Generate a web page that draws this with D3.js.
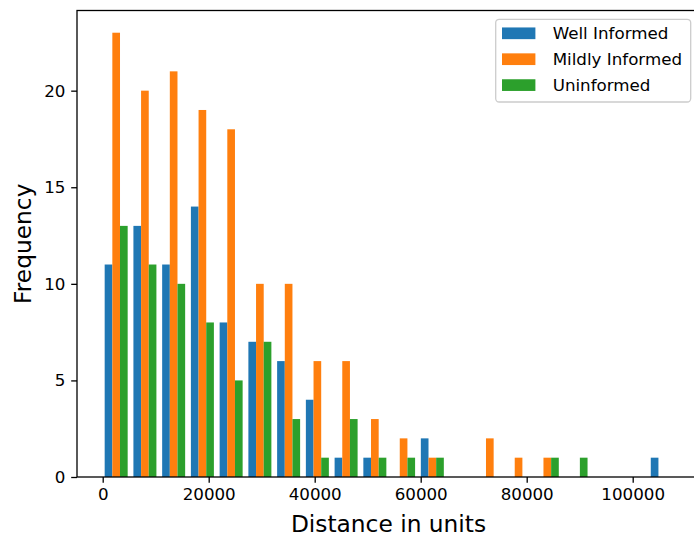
<!DOCTYPE html>
<html>
<head>
<meta charset="utf-8">
<script src="https://cdn.jsdelivr.net/npm/d3@7"></script>
<style>
  body { margin: 0; background: #fff; }
  svg { display: block; font-family: "DejaVu Sans", sans-serif; }
</style>
</head>
<body>
<div id="chart"></div>
<script>
// histogram bin edges (distance in units), 20 bins
const binEdges = [-170, 5253, 10676, 16099, 21522, 26945, 32368, 37791, 43214, 48637,
    54060, 59483, 64906, 70329, 75752, 81175, 86598, 92021, 97444, 102867, 108290]

const seriesNames = ['Well Informed', 'Mildly Informed', 'Uninformed']

// counts per bin
const wellInformed   = [11, 13, 11, 14, 8, 7, 6, 4, 1, 1, 0, 2, 0, 0, 0, 0, 0, 0, 0, 1]
const mildlyInformed = [23, 20, 21, 19, 18, 10, 10, 6, 6, 3, 2, 1, 0, 2, 1, 1, 0, 0, 0, 0]
const uninformed     = [13, 11, 10, 8, 5, 7, 3, 1, 3, 1, 1, 1, 0, 0, 0, 1, 1, 0, 0, 0]

const xTicks = [0, 20000, 40000, 60000, 80000, 100000]
const yTicks = [0, 5, 10, 15, 20]

const colors = ['#1f77b4', '#ff7f0e', '#2ca02c']

const drawHistogram = () => {
    const width = 694
    const height = 537

    // plot area in pixels (right side runs past the crop, like the source)
    const plot = { left: 77, right: 700, top: 10.5, bottom: 477 }

    const svg = d3.select('#chart')
        .append('svg')
        .attr('width', width)
        .attr('height', height)

    const xScale = d3.scaleLinear()
        .domain([-4849, 112698])
        .range([plot.left, plot.right])

    const yScale = d3.scaleLinear()
        .domain([0, 24.15])
        .range([plot.bottom, plot.top])

    const series = [wellInformed, mildlyInformed, uninformed]

    // matplotlib style side by side bars: group takes 80% of the bin
    series.forEach((counts, s) => {
        svg.append('g')
            .selectAll('rect')
            .data(counts)
            .enter()
            .append('rect')
                .attr('x', (d, i) => {
                    const w = binEdges[i + 1] - binEdges[i]
                    return xScale(binEdges[i] + 0.1 * w + s * 0.8 * w / 3)
                })
                .attr('width', (d, i) => {
                    const w = binEdges[i + 1] - binEdges[i]
                    return xScale(binEdges[i] + 0.8 * w / 3) - xScale(binEdges[i])
                })
                .attr('y', d => yScale(d))
                .attr('height', d => yScale(0) - yScale(d))
                .attr('fill', colors[s])
    })

    // axes
    const xAxis = svg.append('g')
        .attr('transform', `translate(0, ${plot.bottom})`)
        .call(d3.axisBottom(xScale).tickValues(xTicks).tickFormat(d3.format('d'))
            .tickSize(5.8).tickPadding(5.8))

    const yAxis = svg.append('g')
        .attr('transform', `translate(${plot.left}, 0)`)
        .call(d3.axisLeft(yScale).tickValues(yTicks).tickSize(5.8).tickPadding(5.8))

    ;[xAxis, yAxis].forEach(ax => {
        ax.select('.domain').remove()
        ax.selectAll('.tick line').attr('stroke', '#000').attr('stroke-width', 1.3)
        ax.selectAll('.tick text')
            .attr('fill', '#000')
            .style('font-size', '16.7px')
            .style('font-family', '"DejaVu Sans", sans-serif')
    })

    // spines
    svg.append('rect')
        .attr('x', plot.left)
        .attr('y', plot.top)
        .attr('width', plot.right - plot.left)
        .attr('height', plot.bottom - plot.top)
        .attr('fill', 'none')
        .attr('stroke', '#000')
        .attr('stroke-width', 1.3)

    // axis labels
    svg.append('text')
        .attr('x', (plot.left + plot.right) / 2)
        .attr('y', 532)
        .attr('text-anchor', 'middle')
        .style('font-size', '23.3px')
        .text('Distance in units')

    svg.append('text')
        .attr('transform', `translate(31, ${(plot.top + plot.bottom) / 2}) rotate(-90)`)
        .attr('text-anchor', 'middle')
        .style('font-size', '23.3px')
        .text('Frequency')

    // legend
    const legend = svg.append('g')

    legend.append('rect')
        .attr('x', 495.7)
        .attr('y', 19.3)
        .attr('width', 195)
        .attr('height', 82.7)
        .attr('rx', 3.5)
        .attr('fill', '#fff')
        .attr('fill-opacity', 0.8)
        .attr('stroke', '#cccccc')
        .attr('stroke-width', 1.3)

    legend.selectAll('.key')
        .data(seriesNames)
        .enter()
        .append('rect')
            .attr('x', 502)
            .attr('y', (d, i) => 33.3 + 25.9 * i - 5.85)
            .attr('width', 33.4)
            .attr('height', 11.7)
            .attr('fill', (d, i) => colors[i])

    legend.selectAll('.label')
        .data(seriesNames)
        .enter()
        .append('text')
            .attr('x', 552.7)
            .attr('y', (d, i) => 33.3 + 25.9 * i)
            .attr('dy', '0.36em')
            .style('font-size', '16.7px')
            .attr('fill', '#000')
            .text(d => d)
}

drawHistogram()
</script>
</body>
</html>
